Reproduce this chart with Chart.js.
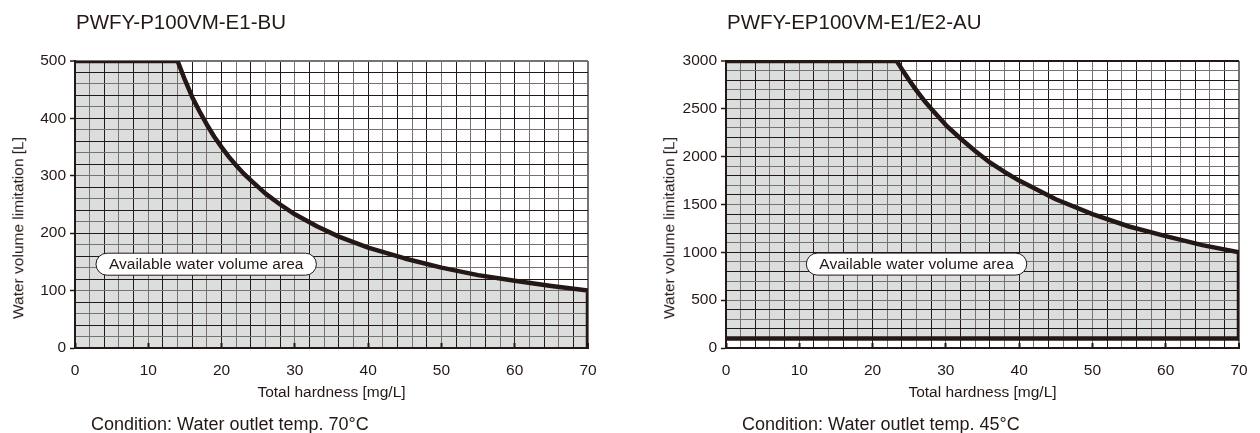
<!DOCTYPE html>
<html>
<head>
<meta charset="utf-8">
<script src="https://cdn.jsdelivr.net/npm/chart.js@4.4.1/dist/chart.umd.min.js"></script>
<style>
  html, body { margin: 0; padding: 0; background: #fff; }
  body { width: 1260px; height: 433px; position: relative; overflow: hidden;
         font-family: "Liberation Sans", Arial, sans-serif; color: #231815; }
  .panel { position: absolute; top: 0; width: 609px; height: 433px; }
  .txt { position: absolute; white-space: nowrap; line-height: 1; }
  .ytitle { position: absolute; white-space: nowrap; font-size: 15.5px; line-height: 1;
            transform: translate(-50%, -50%) rotate(-90deg); }
</style>
</head>
<body>
<div class="panel" style="left:0"><canvas id="leftChart"></canvas></div>
<div class="panel" style="left:651px"><canvas id="rightChart"></canvas></div>

<div class="txt" style="left:76px;top:12px;font-size:20.5px">PWFY-P100VM-E1-BU</div>
<div class="txt" style="left:727px;top:12px;font-size:20.5px">PWFY-EP100VM-E1/E2-AU</div>
<div class="ytitle" style="left:17.5px;top:228px">Water volume limitation [L]</div>
<div class="ytitle" style="left:668.5px;top:228px">Water volume limitation [L]</div>
<div class="txt" style="left:91px;top:415px;font-size:18px">Condition: Water outlet temp. 70°C</div>
<div class="txt" style="left:742px;top:415px;font-size:18px">Condition: Water outlet temp. 45°C</div>

<script>
// P100 (70°C outlet)
const hardnessP100 = [0, 14, 15, 16, 17, 18, 19, 20, 21, 22, 23, 24, 26, 28, 30, 33, 36, 40, 45, 50, 55, 60, 65, 70, 70];
const volumeP100   = [500, 500, 467, 437, 412, 389, 368, 350, 333, 318, 304, 292, 269, 250, 233, 212, 194, 175, 156, 140, 127, 117, 108, 100, 0];

// EP100 (45°C outlet)
const hardnessEP100 = [0, 23.3, 24, 25, 26, 27, 28, 30, 32, 34, 36, 38, 40, 45, 50, 55, 60, 65, 70, 70];
const volumeEP100   = [3000, 3000, 2915, 2800, 2690, 2590, 2500, 2330, 2190, 2060, 1940, 1840, 1750, 1555, 1400, 1270, 1170, 1075, 1000, 100];
const minHardnessEP100 = [0, 70];
const minVolumeEP100   = [100, 100];

// tick labels
const xTickLabels = [0, 10, 20, 30, 40, 50, 60, 70];
const yTickLabelsP100 = [0, 100, 200, 300, 400, 500];
const yTickLabelsEP100 = [0, 500, 1000, 1500, 2000, 2500, 3000];

const AREA_TEXT = 'Available water volume area';
const DARK = '#231815';
const GRAY_LINE = '#767272';
const FILL = '#dcdddd';
const FONT = '"Liberation Sans", Arial, sans-serif';

function toPoints(xs, ys) {
    return xs.map((x, i) => ({ x: x, y: ys[i] }));
}

// rounded label box for the available area
const areaLabel = {
    id: 'areaLabel',
    afterDatasetsDraw(chart, args, opts) {
        if (!opts || !opts.text) return;
        const { ctx, scales: { x, y } } = chart;
        const cx = x.getPixelForValue(opts.x);
        const cy = y.getPixelForValue(opts.y);
        ctx.save();
        ctx.font = '15.5px ' + FONT;
        const w = ctx.measureText(opts.text).width + 26;
        const h = 22;
        ctx.beginPath();
        ctx.roundRect(cx - w / 2, cy - h / 2, w, h, h / 2);
        ctx.fillStyle = '#fff';
        ctx.fill();
        ctx.lineWidth = 1;
        ctx.strokeStyle = DARK;
        ctx.stroke();
        ctx.fillStyle = DARK;
        ctx.textAlign = 'center';
        ctx.textBaseline = 'middle';
        ctx.fillText(opts.text, cx, cy + 1);
        ctx.restore();
    }
};

function makeOptions(yMax, yStep, yLabels, labelAt) {
    return {
        responsive: true,
        maintainAspectRatio: false,
        animation: false,
        layout: { padding: { top: 61, right: 21, bottom: 31, left: 0 } },
        plugins: {
            legend: { display: false },
            tooltip: { enabled: false },
            filler: { drawTime: 'beforeDraw' },
            areaLabel: { x: labelAt.x, y: labelAt.y, text: AREA_TEXT }
        },
        elements: { point: { radius: 0 } },
        scales: {
            x: {
                type: 'linear',
                min: 0,
                max: 70,
                afterFit: function(scale) {
                    scale.height = 54;
                    scale.paddingLeft = 0;
                    scale.paddingRight = 0;
                },
                grid: {
                    color: ctx => (ctx.index % 2 ? GRAY_LINE : DARK),
                    lineWidth: ctx => (ctx.tick && ctx.tick.value === 70 ? 2 : 1),
                    drawTicks: true,
                    tickLength: -5,
                    tickWidth: 2,
                    tickColor: ctx => (ctx.tick && xTickLabels.includes(ctx.tick.value) ? DARK : 'rgba(0,0,0,0)')
                },
                border: { color: DARK, width: 2 },
                ticks: {
                    stepSize: 2,
                    autoSkip: false,
                    maxRotation: 0,
                    padding: 18,
                    color: DARK,
                    font: { family: FONT, size: 15.5 },
                    callback: v => (xTickLabels.includes(v) ? v : '')
                },
                title: {
                    display: true,
                    text: 'Total hardness [mg/L]',
                    color: DARK,
                    padding: 0,
                    font: { family: FONT, size: 15.5 }
                }
            },
            y: {
                min: 0,
                max: yMax,
                afterFit: function(scale) {
                    scale.width = 75;
                    scale.paddingTop = 0;
                    scale.paddingBottom = 0;
                },
                grid: {
                    color: ctx => (ctx.index % 2 ? GRAY_LINE : DARK),
                    lineWidth: ctx => (ctx.tick && ctx.tick.value === yMax ? 2 : 1),
                    drawTicks: true,
                    tickLength: 5,
                    tickWidth: 1.5,
                    tickColor: ctx => (ctx.tick && yLabels.includes(ctx.tick.value) ? DARK : 'rgba(0,0,0,0)')
                },
                border: { color: DARK, width: 2 },
                ticks: {
                    stepSize: yStep,
                    autoSkip: false,
                    padding: 4,
                    color: DARK,
                    font: { family: FONT, size: 15.5 },
                    callback: v => (yLabels.includes(v) ? v : '')
                }
            }
        }
    };
}

new Chart(document.getElementById('leftChart').getContext('2d'), {
    type: 'line',
    data: {
        datasets: [{
            data: toPoints(hardnessP100, volumeP100),
            borderColor: DARK,
            borderWidth: 4.5,
            borderJoinStyle: 'round',
            backgroundColor: FILL,
            fill: 'origin',
            tension: 0
        }]
    },
    options: makeOptions(500, 20, yTickLabelsP100, { x: 17.9, y: 146 }),
    plugins: [areaLabel]
});

new Chart(document.getElementById('rightChart').getContext('2d'), {
    type: 'line',
    data: {
        datasets: [
            {
                data: toPoints(hardnessEP100, volumeEP100),
                borderColor: DARK,
                borderWidth: 4.5,
                borderJoinStyle: 'round',
                backgroundColor: FILL,
                fill: { value: 100 },
                tension: 0
            },
            {
                data: toPoints(minHardnessEP100, minVolumeEP100),
                borderColor: DARK,
                borderWidth: 4.5,
                fill: false,
                tension: 0
            }
        ]
    },
    options: makeOptions(3000, 100, yTickLabelsEP100, { x: 26, y: 877 }),
    plugins: [areaLabel]
});
</script>
</body>
</html>
